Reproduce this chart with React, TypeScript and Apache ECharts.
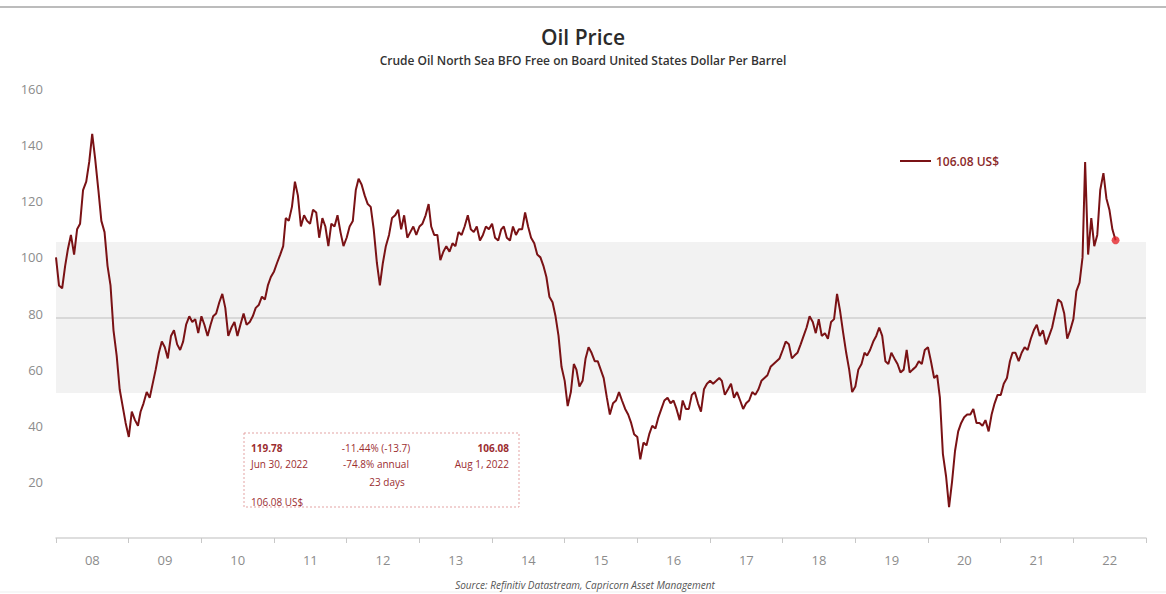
import React, { useEffect, useRef } from "react";
import * as echarts from "echarts";

// Brent crude, semi-monthly readings (1st and 16th of each month), US$ per barrel
const p2008 = [100, 90, 89, 97, 103, 108, 101, 110, 112, 124, 127, 134, 144, 135, 124, 113, 109, 97, 90, 74, 65, 53, 47, 41];
const p2009 = [36, 45, 42, 40, 45, 48, 52, 50, 55, 60, 66, 70, 68, 64, 72, 74, 69, 67, 70, 76, 79, 77, 78, 73];
const p2010 = [79, 76, 72, 76, 79, 80, 84, 87, 82, 72, 75, 77, 72, 76, 80, 76, 77, 79, 82, 83, 86, 85, 90, 93];
const p2011 = [95, 98, 101, 104, 114, 113, 118, 127, 122, 111, 115, 113, 112, 117, 116, 107, 114, 111, 104, 112, 111, 115, 109, 104];
const p2012 = [107, 111, 113, 124, 128, 126, 122, 119, 118, 110, 98, 90, 98, 104, 108, 114, 115, 117, 110, 115, 107, 109, 111, 108];
const p2013 = [111, 112, 115, 119, 111, 108, 108, 99, 102, 104, 102, 105, 104, 109, 108, 111, 115, 110, 109, 111, 106, 108, 111, 110];
const p2014 = [112, 107, 106, 110, 111, 107, 106, 111, 108, 110, 110, 116, 111, 107, 105, 101, 100, 97, 93, 86, 84, 79, 72, 61];
const p2015 = [56, 47, 52, 62, 60, 54, 56, 64, 68, 66, 63, 63, 60, 57, 50, 44, 48, 49, 52, 49, 46, 44, 41, 37];
const p2016 = [36, 28, 34, 33, 37, 40, 39, 43, 46, 49, 50, 48, 49, 46, 42, 49, 46, 46, 51, 52, 48, 45, 53, 55];
const p2017 = [56, 55, 56, 57, 56, 51, 53, 55, 50, 52, 49, 46, 48, 49, 52, 51, 53, 56, 57, 58, 61, 62, 63, 64];
const p2018 = [67, 70, 69, 64, 65, 66, 69, 72, 75, 79, 77, 73, 78, 72, 73, 71, 77, 78, 87, 81, 73, 66, 60, 52];
const p2019 = [54, 60, 62, 66, 65, 67, 70, 72, 75, 72, 63, 62, 66, 64, 62, 59, 60, 67, 59, 60, 61, 63, 62, 67];
const p2020 = [68, 63, 57, 58, 50, 30, 22, 11, 20, 31, 38, 41, 43, 44, 44, 46, 41, 41, 40, 42, 38, 44, 48, 51];
const p2021 = [51, 55, 57, 63, 66, 66, 63, 66, 68, 67, 71, 74, 76, 72, 74, 69, 72, 75, 80, 85, 84, 80, 71, 74];
const p2022 = [78, 88, 91, 100, 134, 101, 114, 104, 108, 124, 130, 121, 117, 110, 106.08];

const years = [2008, 2009, 2010, 2011, 2012, 2013, 2014, 2015, 2016, 2017, 2018, 2019, 2020, 2021, 2022];
const yearPrices = [p2008, p2009, p2010, p2011, p2012, p2013, p2014, p2015, p2016, p2017, p2018, p2019, p2020, p2021, p2022];
const yearLabels = ["08", "09", "10", "11", "12", "13", "14", "15", "16", "17", "18", "19", "20", "21", "22"];

const bandLow = 51.7;
const bandHigh = 105.5;
const averageLevel = 78.6;

const seriesName = "106.08 US$";
const FONT = "'Open Sans', sans-serif";
const RED_TEXT = "#9b2d30";

function buildSeries(): [number, number][] {
  const out: [number, number][] = [];
  yearPrices.forEach((arr, yi) => {
    arr.forEach((v, i) => {
      const month = Math.floor(i / 2);
      const day = i % 2 === 0 ? 1 : 16;
      out.push([Date.UTC(years[yi], month, day), v]);
    });
  });
  return out;
}

export default function App() {
  const ref = useRef<HTMLDivElement>(null);
  useEffect(() => {
    if (!ref.current) return;
    const chart = echarts.init(ref.current, null, { renderer: "svg" });
    const data = buildSeries();
    const last = data[data.length - 1];
    const txt = (x: number, y: number, text: string, extra: any = {}) => ({
      type: "text",
      x,
      y,
      style: {
        text,
        fill: RED_TEXT,
        font: `10px ${FONT}`,
        textVerticalAlign: "middle",
        ...extra,
      },
    });
    chart.setOption({
      animation: false,
      backgroundColor: "#ffffff",
      title: {
        text: "Oil Price",
        subtext: "Crude Oil North Sea BFO Free on Board United States Dollar Per Barrel",
        left: "center",
        top: 21,
        itemGap: 7,
        textStyle: { fontFamily: FONT, fontSize: 21, fontWeight: 600, color: "#2b2b2b" },
        subtextStyle: { fontFamily: FONT, fontSize: 12, fontWeight: 600, color: "#333333" },
      },
      legend: {
        left: 895,
        top: 150,
        itemWidth: 31,
        itemHeight: 2,
        data: [{ name: seriesName, icon: "rect" }],
        textStyle: { fontFamily: FONT, fontSize: 12, fontWeight: 600, color: "#8b2a2a" },
      },
      grid: { left: 56, right: 20, top: 89, bottom: 56 },
      xAxis: [
        {
          type: "time",
          min: Date.UTC(2008, 0, 1),
          max: Date.UTC(2023, 0, 1),
          show: false,
        },
        {
          type: "category",
          data: yearLabels,
          boundaryGap: true,
          position: "bottom",
          axisLine: { show: true, lineStyle: { color: "#d3d3d3", width: 1.5 } },
          axisTick: { show: true, length: 5, lineStyle: { color: "#c8c8c8" } },
          axisLabel: { color: "#8c8c8c", fontSize: 13, fontFamily: FONT, margin: 15 },
          splitLine: { show: false },
        },
      ],
      yAxis: {
        type: "value",
        min: 0,
        max: 160,
        interval: 20,
        axisLine: { show: false },
        axisTick: { show: false },
        splitLine: { show: false },
        axisLabel: {
          color: "#8c8c8c",
          fontSize: 13,
          fontFamily: FONT,
          margin: 13,
          formatter: (v: number) => (v === 0 ? "" : String(v)),
        },
      },
      series: [
        {
          name: seriesName,
          type: "line",
          xAxisIndex: 0,
          data,
          showSymbol: false,
          symbol: "none",
          lineStyle: { color: "#7a1215", width: 2 },
          itemStyle: { color: "#7a1215" },
          z: 5,
          markArea: {
            silent: true,
            itemStyle: { color: "#f2f2f2" },
            data: [[{ yAxis: bandLow }, { yAxis: bandHigh }]],
          },
          markLine: {
            silent: true,
            symbol: "none",
            label: { show: false },
            lineStyle: { color: "#cfcfcf", width: 1.5, type: "solid" },
            data: [{ yAxis: averageLevel }],
          },
        },
        {
          name: "last",
          type: "scatter",
          xAxisIndex: 0,
          data: [last],
          symbolSize: 8,
          itemStyle: { color: "#e3262b" },
          z: 6,
        },
      ],
      graphic: [
        { type: "line", shape: { x1: 0, y1: 7, x2: 1166, y2: 7 }, style: { stroke: "#a6a6a6", lineWidth: 1.5 } },
        { type: "line", shape: { x1: 0, y1: 592, x2: 1166, y2: 592 }, style: { stroke: "#efefef", lineWidth: 1 } },
        {
          type: "text",
          x: 298,
          y: 308,
          style: { text: "average for", fill: "#555555", font: `11px ${FONT}`, textVerticalAlign: "middle" },
        },
        {
          type: "text",
          x: 298,
          y: 328,
          style: { text: "the period 77.5", fill: "#555555", font: `11px ${FONT}`, textVerticalAlign: "middle" },
        },
        {
          type: "rect",
          shape: { x: 244, y: 433, width: 275, height: 74 },
          style: { fill: "none", stroke: "#e3a3a3", lineWidth: 1, lineDash: [2, 2] },
        },
        txt(251, 448, "119.78", { font: `bold 10px ${FONT}` }),
        txt(251, 464, "Jun 30, 2022"),
        txt(376, 448, "-11.44% (-13.7)", { textAlign: "center" }),
        txt(376, 464, "-74.8% annual", { textAlign: "center" }),
        txt(387, 482, "23 days", { textAlign: "center" }),
        txt(509, 448, "106.08", { textAlign: "right", font: `bold 10px ${FONT}` }),
        txt(509, 464, "Aug 1, 2022", { textAlign: "right" }),
        txt(251, 502, "106.08 US$"),
        {
          type: "text",
          x: 585,
          y: 585,
          style: {
            text: "Source: Refinitiv Datastream, Capricorn Asset Management",
            fill: "#555555",
            font: `italic 10px ${FONT}`,
            textAlign: "center",
            textVerticalAlign: "middle",
          },
        },
      ],
    });
    return () => chart.dispose();
  }, []);
  return (
    <div
      ref={ref}
      style={{ position: "fixed", left: 0, top: 0, width: 1166, height: 594, background: "#fff" }}
    />
  );
}
